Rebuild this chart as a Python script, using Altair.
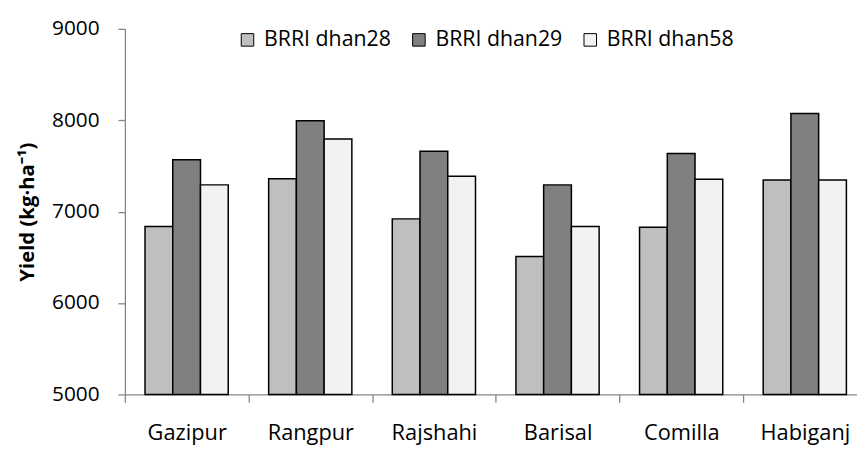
import altair as alt
import pandas as pd

regions = ["Gazipur", "Rangpur", "Rajshahi", "Barisal", "Comilla", "Habiganj"]
series = ["BRRI dhan28", "BRRI dhan29", "BRRI dhan58"]
dhan28 = [6837, 7361, 6921, 6508, 6830, 7347]
dhan29 = [7567, 7995, 7662, 7293, 7637, 8074]
dhan58 = [7293, 7796, 7387, 6837, 7355, 7347]
colors = ["#bfbfbf", "#808080", "#f2f2f2"]
y_ticks = [5000, 6000, 7000, 8000, 9000]

rows = []
for name, vals in zip(series, [dhan28, dhan29, dhan58]):
    for r, v in zip(regions, vals):
        rows.append({"Region": r, "Variety": name, "Yield": v})
df = pd.DataFrame(rows)

FONT = "Open Sans"
STEP = 124.8

bars = alt.Chart(df).mark_bar(stroke="black", strokeWidth=1.5).encode(
    x=alt.X("Region:N", sort=regions,
            scale=alt.Scale(domain=regions, range=[0, STEP * 6], paddingInner=0, paddingOuter=0),
            axis=alt.Axis(title=None, labelAngle=0, tickBand="extent", tickSize=8,
                          labelPadding=20, labelFontSize=22, labelFont=FONT, labelColor="black",
                          domainColor="#868686", tickColor="#868686", domainWidth=1.3, tickWidth=1.3,
                          grid=False)),
    xOffset=alt.XOffset("Variety:N", sort=series,
                        scale=alt.Scale(domain=series, range=[20.3, 104.3], paddingInner=0, paddingOuter=0)),
    y=alt.Y("Yield:Q",
            scale=alt.Scale(domain=[5000, 9000], zero=False, nice=False),
            axis=alt.Axis(title="Yield (kg·ha⁻¹)", values=y_ticks, tickSize=7, labelPadding=19,
                          labelFontSize=21, labelFont=FONT, labelColor="black",
                          titleFontSize=20.5, titleFont=FONT, titleFontWeight="bold", titleColor="black",
                          titlePadding=14, domainColor="#868686", tickColor="#868686",
                          domainWidth=1.3, tickWidth=1.3, grid=False, format="d")),
    y2=alt.datum(5000),
    color=alt.Color("Variety:N", sort=series,
                    scale=alt.Scale(domain=series, range=colors),
                    legend=alt.Legend(title=None, orient="none", direction="horizontal",
                                      legendX=113, legendY=0, symbolType="square", symbolSize=160,
                                      symbolStrokeColor="black", symbolStrokeWidth=1,
                                      labelFontSize=21.5, labelFont=FONT, labelColor="black",
                                      labelOffset=6, columnPadding=17, labelLimit=300)),
).properties(
    width=739,
    height=369,
    autosize=alt.AutoSizeParams(type="none"),
    padding={"left": 118, "top": 19, "right": 0, "bottom": 52},
).configure_view(stroke=None)

chart = bars
chart.save("out.html", embed_options={"renderer": "svg", "actions": False})
